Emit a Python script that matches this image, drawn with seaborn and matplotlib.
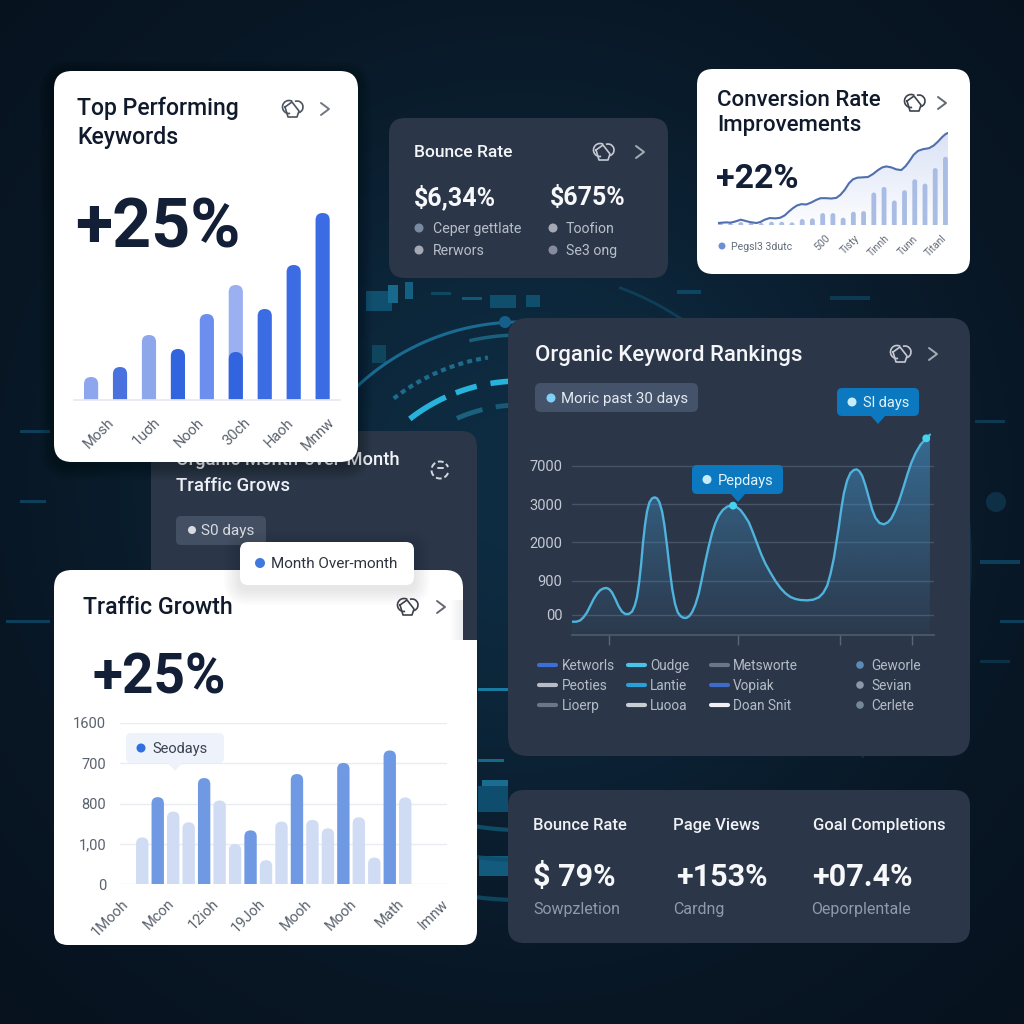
import numpy as np
import pandas as pd
import matplotlib
matplotlib.use("Agg")
import matplotlib.pyplot as plt
from matplotlib.colors import to_rgb
from matplotlib.patches import FancyBboxPatch, Rectangle, Circle, Polygon, Arc
import seaborn as sns

sns.set_theme(style="white")
plt.rcParams["font.family"] = ["Roboto", "DejaVu Sans"]

# ---- data ----
kw_values = [23, 33, 65, 51, 86, 115, 91, 135, 187]
kw_overlay = [0, 0, 0, 0, 0, 48, 0, 0, 0]
kw_colors = ["#8ea6ee", "#4a72de", "#8ea6ea", "#3364e0", "#6b8eef", "#9ab0f0", "#3b6ce4", "#3b6ce4", "#3b6ce4"]
kw_tick_pos = [0.55, 2.15, 3.65, 5.25, 6.75, 8.15]
kw_tick_labels = ["Mosh", "1uσh", "Nooh", "30ch", "Haoh", "Mnnw"]

conv_bars = [8, 6, 9, 8, 6, 10, 10, 8, 18, 20, 36, 36, 22, 40, 42, 98, 115, 74, 105, 138, 125, 172, 206]
conv_line_x = [-0.23, 0.16, 0.59, 0.98, 1.40, 1.99, 2.38, 2.87, 3.52, 3.91, 4.33, 4.82, 5.41, 5.86, 6.29, 6.71, 7.10, 7.49,
               7.92, 8.40, 8.89, 9.38, 9.80, 10.36, 10.85, 11.34, 11.73, 12.15, 12.57, 12.96, 13.39, 13.94, 14.43, 14.92,
               15.41, 15.83, 16.22, 16.71, 17.20, 17.69, 18.11, 18.50, 18.89, 19.32, 19.80, 20.39, 20.85, 21.27, 21.66, 22.02, 22.25]
conv_line_y = [6, 7, 8, 7, 10, 16, 13, 9, 6, 9, 16, 21, 20, 22, 29, 41, 51, 59,
               63, 62, 68, 76, 81, 81, 80, 82, 91, 106, 126, 138, 143, 144, 145, 154,
               166, 174, 177, 174, 168, 166, 178, 194, 212, 224, 229, 232, 240, 252, 265, 275, 278]
conv_tick_pos = [10.2, 13.1, 16.0, 18.8, 21.6]
conv_tick_labels = ["500", "Tisty", "Tinnh", "Tunn", "Titanl"]

rank_days = [0.00, 0.36, 0.70, 0.98, 1.26, 1.54, 1.82, 2.10, 2.38, 2.66, 2.88, 3.10, 3.35, 3.63, 3.91, 4.19, 4.47, 4.75,
             5.03, 5.26, 5.45, 5.62, 5.79, 5.95, 6.12, 6.29, 6.49, 6.71, 6.93, 7.13, 7.32, 7.55, 7.74, 7.97, 8.19, 8.41,
             8.64, 8.86, 9.09, 9.31, 9.56, 9.81, 10.06, 10.34, 10.62, 10.90, 11.18, 11.46, 11.74, 12.02, 12.30, 12.64,
             13.00, 13.28, 13.50, 13.78, 14.12, 14.45, 14.82, 15.15, 15.52, 15.85, 16.21, 16.63, 17.05, 17.47, 17.89,
             18.31, 18.73, 19.15, 19.71, 20.21, 20.69, 21.05, 21.39, 21.67, 21.95, 22.17, 22.37, 22.56, 22.78, 23.06,
             23.34, 23.62, 23.85, 24.07, 24.32, 24.60, 24.88, 25.16, 25.44, 25.78, 26.14, 26.47, 26.75, 27.06, 27.40,
             27.76, 28.10, 28.43, 28.80, 29.21, 29.69, 30.00]
rank_values = [-70, -70, -35, 52, 174, 348, 522, 661, 757, 800, 809, 783, 696, 522, 330, 191, 130, 130,
               191, 348, 574, 939, 1417, 1983, 2461, 2809, 3043, 3148, 3174, 3148, 3052, 2809, 2461, 1896, 1287, 765,
               391, 174, 78, 35, 26, 70, 174, 374, 661, 1070, 1504, 1896, 2243, 2504, 2696, 2844,
               2930, 2957, 2957, 2922, 2844, 2704, 2522, 2270, 1965, 1696, 1444, 1209, 991, 809, 670,
               574, 522, 496, 487, 504, 565, 678, 870, 1183, 1591, 2026, 2417, 2852, 3270, 3617,
               3809, 3887, 3904, 3861, 3739, 3478, 3165, 2852, 2635, 2504, 2470, 2522, 2617, 2809, 3070,
               3417, 3765, 4070, 4330, 4548, 4713, 4809]
rank_marked = [13.50, 29.69]
rank_yticks = [113, 1000, 2000, 3000, 4000]
rank_ylabels = ["00", "900", "2000", "3000", "7000"]
rank_xticks = [3.08, 13.9, 22.5, 28.46]

traffic_values = [463, 863, 720, 613, 1053, 830, 397, 533, 237, 620, 1093, 637, 553, 1203, 663, 263, 1327, 860]
traffic_dark = [1, 4, 7, 10, 13, 16]
traffic_yticks = [0, 400, 800, 1200, 1600]
traffic_ylabels = ["0", "1,00", "800", "700", "1600"]
traffic_tick_pos = [-1.35, 1.6, 4.5, 7.45, 10.5, 13.4, 16.45, 19.35]
traffic_tick_labels = ["1Mooh", "Mcon", "12ioh", "19Joh", "Mooh", "Mooh", "Math", "Imnw"]

legend_rows = [
    ["Ketworls", "Oudge", "Metsworte", "Geworle"],
    ["Peoties", "Lantie", "Vopiak", "Sevian"],
    ["Lioerp", "Luooa", "Doan Snit", "Cerlete"],
]
legend_colors = [
    ["#3a6fd8", "#47c4e8", "#6b7686", "#5e8bb5"],
    ["#b8bcc8", "#2a9fd8", "#3c6cc8", "#8b98a8"],
    ["#6b7686", "#c9cdd4", "#eef0f3", "#77879a"],
]

# bits of the circuit pattern behind the cards: radius, from angle, to angle, colour, width, alpha
ring_arcs = [
    (179, -38, -24.5, "#27b4dc", 4.0, 1.0), (179, -21, -14, "#27b4dc", 4.0, 1.0), (179, -9.5, 2, "#27b4dc", 4.0, 1.0),
    (155, -24, -14, "#1d6f8c", 3.5, 0.8), (155, -9, -2, "#1d6f8c", 3.5, 0.7), (238, -55, 0, "#1b6f96", 2.2, 0.95),
    (225, -13, -2, "#1d6f8c", 2.5, 0.8), (290, -70, -40, "#114a68", 1.6, 0.8), (290, 20, 62, "#114a68", 2, 0.7),
    (330, 60, 105, "#0f4a66", 3, 0.55), (395, 62, 120, "#0e3f5a", 2, 0.55), (450, 66, 110, "#0e3f5a", 2.5, 0.55),
    (350, -160, -110, "#0f4a66", 2, 0.5), (420, -140, -95, "#0e3f5a", 2.5, 0.4), (270, -125, -95, "#0f4a66", 2, 0.6),
    (300, 165, 200, "#0f4a66", 3, 0.6), (340, 168, 195, "#12607f", 3, 0.6), (270, 172, 192, "#12607f", 3, 0.7),
]
ring_dashes = [(205, -38, -9, "#1f6f90", 3.0, 0.95), (260, 100, 125, "#15688a", 5, 0.7), (170, 150, 175, "#15688a", 5, 0.8),
               (232, -120, -100, "#15688a", 3, 0.6)]
tech_blocks = [
    (366, 291, 26, 20, "#114f6e"), (388, 285, 10, 18, "#176a8c"), (405, 282, 8, 17, "#146080"), (431, 292, 20, 3, "#0f4862"),
    (490, 295, 26, 13, "#104f6c"), (526, 295, 14, 12, "#104f6c"), (462, 297, 20, 3, "#0f5a78"), (372, 345, 14, 18, "#10455e"),
    (478, 786, 30, 26, "#0f4d6e"), (482, 780, 26, 6, "#1a6d90"), (479, 856, 30, 20, "#125a7e"), (478, 688, 30, 3, "#1a7ba0"),
    (478, 759, 26, 3, "#15688a"), (975, 420, 30, 3, "#0d3a52"), (20, 430, 30, 3, "#0e3f5a"), (20, 500, 26, 3, "#0e3f5a"),
    (980, 560, 40, 4, "#0e3f5a"), (1000, 620, 24, 3, "#0e3f5a"), (6, 620, 44, 3, "#0e3f5a"), (980, 660, 30, 3, "#0c3046"),
    (677, 290, 24, 4, "#0e4560"), (830, 296, 40, 4, "#0d3a52"),
]

DARK_CARD = "#2b3648"
INK = "#101a2c"


def inset(left, top, right, bottom):
    ax = fig.add_axes([left / 1024, 1 - bottom / 1024, (right - left) / 1024, (bottom - top) / 1024], zorder=2)
    ax.patch.set_visible(False)
    sns.despine(ax=ax, left=True, bottom=True)
    return ax


def box(ax, x0, y0, x1, y1, color, r=14, zorder=1, alpha=1.0):
    ax.add_patch(FancyBboxPatch((x0 + r, y0 + r), x1 - x0 - 2 * r, y1 - y0 - 2 * r, boxstyle=f"round,pad={r},rounding_size={r}",
                                fc=color, ec="none", zorder=zorder, alpha=alpha))


def shadow(ax, x0, y0, x1, y1, r=14, zorder=1, color="#000000", alpha=0.035, spread=14):
    for s in range(spread, 0, -2):
        box(ax, x0 - s, y0 - s + 4, x1 + s, y1 + s + 4, color, r=r + s, zorder=zorder, alpha=alpha)


def label(ax, x, y, s, size, color, weight="normal", **kw):
    ax.text(x, y + 0.1 * size, s, fontsize=size, color=color, fontweight=weight, va="center", ha=kw.pop("ha", "left"), **kw)


def dot(ax, x, y, r, color, zorder=6):
    ax.add_patch(Circle((x, y), r, fc=color, ec="none", zorder=zorder))


def icons(ax, x, y, ax_x, color, zorder=6):
    # the little picture glyph and arrow at the right of each card head
    ax.add_patch(Arc((x - 4, y - 2), 13, 13, theta1=80, theta2=300, ec=color, lw=1.2, zorder=zorder))
    ax.add_patch(Arc((x + 4, y - 2), 12, 12, theta1=250, theta2=70, ec=color, lw=1.2, zorder=zorder))
    ax.plot([x - 8, x - 1, x + 6, x + 4, x - 5, x - 8], [y - 2, y - 7, y + 2, y + 8, y + 8, y - 2], color=color, lw=1.2,
            zorder=zorder, solid_joinstyle="round")
    ax.plot([ax_x - 4, ax_x + 4, ax_x - 4], [y - 6, y, y + 6], color=color, lw=1.4, zorder=zorder, alpha=0.8)


def round_bars(ax, bottom_px=8):
    box_px = ax.get_window_extent()
    xmin, xmax = ax.get_xlim()
    ymin, ymax = ax.get_ylim()
    ux, uy = (xmax - xmin) / box_px.width, (ymax - ymin) / box_px.height
    for p in list(ax.patches):
        x, y, w, h = p.get_x(), p.get_y(), p.get_width(), p.get_height()
        color = p.get_facecolor()
        p.remove()
        if h <= 0:
            continue
        extra = bottom_px * uy
        ax.add_patch(FancyBboxPatch((x, y - extra), w, h + extra, boxstyle=f"round,pad=0,rounding_size={w / 2}",
                                    mutation_aspect=uy / ux, fc=color, ec="none", zorder=2, clip_on=True))


def gradient_fill(ax, x, y, color, top_alpha, bottom_alpha, floor):
    xlim, ylim = ax.get_xlim(), ax.get_ylim()
    poly = ax.fill_between(x, y, floor, facecolor="none", edgecolor="none")
    rgba = np.zeros((256, 1, 4))
    rgba[..., :3] = to_rgb(color)
    rgba[:, 0, 3] = np.linspace(top_alpha, bottom_alpha, 256)
    im = ax.imshow(rgba, extent=[xlim[0], xlim[1], ylim[0], ylim[1]], origin="upper", aspect="auto", zorder=1.5)
    im.set_clip_path(poly.get_paths()[0], transform=ax.transData)
    ax.set_xlim(xlim)
    ax.set_ylim(ylim)


fig = plt.figure(figsize=(10.24, 10.24), dpi=100, facecolor="#08121f")

# ---- background and cards ----
bg = fig.add_axes([0, 0, 1, 1], zorder=0)
bg.set_xlim(0, 1024)
bg.set_ylim(1024, 0)
bg.axis("off")

yy, xx = np.mgrid[0:1024:256j, 0:1024:256j]
glow = np.exp(-((xx - 520) ** 2 + (yy - 480) ** 2) / (2 * 300.0 ** 2))
base = np.array(to_rgb("#07111d"))
tint = np.array(to_rgb("#0e2c42"))
bg.imshow(base + glow[..., None] * (tint - base), extent=[0, 1024, 1024, 0], aspect="auto", zorder=0)
bg.set_xlim(0, 1024)
bg.set_ylim(1024, 0)

for r, a0, a1, c, lw, al in ring_arcs + ring_dashes:
    t = np.radians(np.linspace(a0, a1, 60))
    ls = (0, (1.2, 1.0)) if (r, a0, a1, c, lw, al) in ring_dashes else "-"
    bg.plot(520 + r * np.sin(t), 560 - r * np.cos(t), color=c, lw=lw, alpha=al, zorder=0.5, ls=ls, solid_capstyle="butt")
for x, y, w, h, c in tech_blocks:
    bg.add_patch(Rectangle((x, y), w, h, fc=c, ec="none", zorder=0.4))
dot(bg, 505, 322, 6, "#14608a", zorder=0.6)
dot(bg, 996, 502, 10, "#0d3047", zorder=0.6)

box(bg, 389, 118, 668, 278, DARK_CARD, r=16)
box(bg, 508, 318, 970, 756, DARK_CARD, r=20)
box(bg, 508, 790, 970, 943, DARK_CARD, r=16)
box(bg, 151, 431, 477, 700, DARK_CARD, r=16, zorder=1)
label(bg, 176, 459, "Organic Month-over-Month", 13.2, "#f2f4f7", weight="medium", zorder=1.1)
shadow(bg, 54, 71, 358, 462, r=18, zorder=1.2)
box(bg, 54, 71, 358, 462, "white", r=18, zorder=1.5)
box(bg, 697, 69, 970, 274, "white", r=16, zorder=1.5)

box(bg, 54, 570, 463, 945, "white", r=18, zorder=1.5)
box(bg, 54, 700, 477, 945, "white", r=14, zorder=1.5)
bg.add_patch(Rectangle((450, 640), 27, 80, fc="white", ec="none", zorder=1.5))
for i in range(6):
    bg.add_patch(Rectangle((451 + i * 2, 600), 2, 40, fc="#7e8794", ec="none", alpha=0.02 + 0.025 * i, zorder=1.55))

# dark traffic card head
label(bg, 176, 485, "Traffic Grows", 13.4, "#eef1f5", weight="medium", zorder=1.1)
box(bg, 176, 516, 266, 545, "#434f63", r=5, zorder=1.1)
dot(bg, 192, 530, 4, "#d8dce2", zorder=1.2)
label(bg, 201, 530, "S0 days", 11, "#d8dce2", zorder=1.2)
bg.add_patch(Arc((440, 470), 17, 17, theta1=20, theta2=340, ec="#d5d9df", lw=1.4, ls=(0, (3, 1.5)), zorder=1.2))
bg.plot([438, 443], [468, 468], color="#d5d9df", lw=1.4, zorder=1.2)

# ---- top performing keywords ----
label(bg, 77, 107, "Top Performing", 16.6, INK, weight="medium", zorder=3)
label(bg, 77, 136, "Keywords", 16.6, INK, weight="medium", zorder=3)
label(bg, 75, 224, "+25%", 49, "#131f36", weight="bold", zorder=3)
icons(bg, 293, 109, 325, "#4d5460", zorder=3)

kw_x = np.arange(len(kw_values))
ax1 = inset(74, 205, 340, 400)
sns.barplot(x=kw_x, y=kw_values, hue=[str(i) for i in kw_x], palette=kw_colors, saturation=1, width=0.49, legend=False, ax=ax1)
sns.barplot(x=kw_x, y=kw_overlay, color="#3364e0", saturation=1, width=0.49, ax=ax1)
ax1.set_xlim(-0.59, 8.6)
ax1.set_ylim(0, 195)
round_bars(ax1)
ax1.set_ylabel("")
ax1.set_yticks([])
ax1.spines["bottom"].set_visible(True)
ax1.spines["bottom"].set_color("#e6eaf2")
ax1.set_xticks(kw_tick_pos, kw_tick_labels, rotation=45, ha="right", rotation_mode="anchor", fontsize=10.5, color="#5a626e")
ax1.tick_params(axis="x", length=0, pad=11)

# ---- conversion rate ----
label(bg, 717, 99, "Conversion Rate", 16, INK, weight="medium", zorder=3)
label(bg, 717, 124, "Improvements", 16, INK, weight="medium", zorder=3)
label(bg, 716, 177, "+22%", 24.5, "#131f36", weight="bold", zorder=3)
icons(bg, 915, 103, 942, "#3c434e", zorder=3)
dot(bg, 722, 246, 3.5, "#6d90d4", zorder=3)
label(bg, 731, 246, "Pegsl3 3dutc", 7.6, "#656d7a", zorder=3)

conv_x = np.arange(len(conv_bars))
ax2 = inset(718, 129, 948, 225)
sns.barplot(x=conv_x, y=conv_bars, color="#a9bce4", saturation=1, width=0.47, ax=ax2)
ax2.set_xlim(-0.23, 22.25)
ax2.set_ylim(0, 290)
round_bars(ax2, bottom_px=3)
gradient_fill(ax2, conv_line_x, conv_line_y, "#9fb4e6", 0.4, 0.03, 0)
sns.lineplot(x=conv_line_x, y=conv_line_y, color="#4f6fae", lw=1.5, sort=False, estimator=None, ax=ax2)
ax2.set_ylabel("")
ax2.set_yticks([])
ax2.set_xticks(conv_tick_pos, conv_tick_labels, rotation=45, ha="right", rotation_mode="anchor", fontsize=7.5, color="#656d7a")
ax2.tick_params(axis="x", length=0, pad=6)

# ---- organic keyword rankings ----
label(bg, 535, 354, "Organic Keyword Rankings", 16, "#f4f6f9", weight="medium", zorder=3)
icons(bg, 901, 354, 933, "#c5cad2", zorder=3)
box(bg, 535, 383, 698, 412, "#45536a", r=6, zorder=2)
dot(bg, 551, 398, 4.5, "#7fd0f5", zorder=3)
label(bg, 561, 398, "Moric past 30 days", 10.8, "#e6eaf0", zorder=3)

ax3 = inset(572, 433, 934, 635)
ax3.set_xlim(0, 30.34)
ax3.set_ylim(-417, 4852)
ax3.set_axisbelow(True)
ax3.set_yticks(rank_yticks, rank_ylabels, fontsize=10.5, color="#c3c9d2")
ax3.grid(axis="y", color="#465468", lw=1)
gradient_fill(ax3, rank_days, rank_values, "#3f8fc4", 0.6, 0.04, -417)
sns.lineplot(x=rank_days, y=rank_values, color="#4fb3dc", lw=1.7, sort=False, estimator=None, ax=ax3)
marked = pd.DataFrame({"d": rank_marked, "v": [rank_values[rank_days.index(d)] for d in rank_marked]})
sns.scatterplot(data=marked, x="d", y="v", color="#45d4f0", s=32, edgecolor="none", zorder=5, clip_on=False, ax=ax3)
ax3.set_xlabel("")
ax3.set_ylabel("")
ax3.set_xticks(rank_xticks, [""] * len(rank_xticks))
ax3.spines["bottom"].set_visible(True)
ax3.spines["bottom"].set_color("#4c5a6e")
ax3.tick_params(axis="y", length=0, pad=7)
ax3.tick_params(axis="x", length=7, width=1, color="#5a6779", bottom=True, direction="out")

# ---- traffic growth ----
label(bg, 83, 606, "Traffic Growth", 16.7, INK, weight="medium", zorder=3)
label(bg, 92, 675, "+25%", 39.5, "#131f36", weight="bold", zorder=3)
icons(bg, 408, 607, 441, "#3c434e", zorder=3)

traffic_x = np.arange(len(traffic_values))
traffic_colors = ["#7099e4" if i in traffic_dark else "#cfdcf3" for i in traffic_x]
ax4 = inset(120, 723, 447, 884)
ax4.set_axisbelow(True)
sns.barplot(x=traffic_x, y=traffic_values, hue=[str(i) for i in traffic_x], palette=traffic_colors, saturation=1,
            width=0.8, legend=False, ax=ax4)
ax4.set_xlim(-1.44, 19.7)
ax4.set_ylim(0, 1600)
round_bars(ax4)
ax4.set_ylabel("")
ax4.set_yticks(traffic_yticks, traffic_ylabels, fontsize=10.5, color="#5a626e")
ax4.grid(axis="y", color="#e9ecf1", lw=1)
for s in ["top", "bottom"]:
    ax4.spines[s].set_visible(False)
ax4.set_xticks(traffic_tick_pos, traffic_tick_labels, rotation=45, ha="right", rotation_mode="anchor", fontsize=10.5, color="#5a626e")
ax4.tick_params(axis="x", length=0, pad=9)
ax4.tick_params(axis="y", length=0, pad=10)

# ---- things that sit on top of the charts ----
top = fig.add_axes([0, 0, 1, 1], zorder=5)
top.set_xlim(0, 1024)
top.set_ylim(1024, 0)
top.axis("off")


def tooltip(x0, y0, x1, y1, tail, text, fill, dot_color, text_color, size=10.5):
    box(top, x0, y0, x1, y1, fill, r=5, zorder=3)
    top.add_patch(Polygon([(tail - 8, y1 - 1), (tail + 8, y1 - 1), (tail, y1 + 8)], fc=fill, ec="none", zorder=3))
    dot(top, x0 + 15, (y0 + y1) / 2, 4.5, dot_color)
    label(top, x0 + 26, (y0 + y1) / 2, text, size, text_color, zorder=6)


tooltip(692, 465, 783, 494, 738, "Pepdays", "#0b78bf", "#c6ecfa", "#dff3fb")
tooltip(837, 388, 919, 416, 878, "Sl days", "#0b78bf", "#c6ecfa", "#dff3fb")
tooltip(126, 733, 224, 763, 175, "Seodays", "#eef2fa", "#2f6fe0", "#3a4250")

shadow(top, 240, 542, 414, 585, r=8, zorder=2, alpha=0.012, spread=16)
box(top, 240, 542, 414, 585, "white", r=8, zorder=3)
dot(top, 260, 563, 5, "#3f78de")
label(top, 271, 563, "Month Over-month", 11, "#2c3440", zorder=6)

# legend of the organic card
col_x = [539, 628, 711, 860]
text_x = [562, 650, 733, 871]
row_y = [665, 685, 705]
for r, y in enumerate(row_y):
    for c in range(4):
        if c == 3:
            dot(top, col_x[c], y, 3.8, legend_colors[r][c])
        else:
            top.plot([col_x[c], col_x[c] + 17], [y, y], color=legend_colors[r][c], lw=3, solid_capstyle="round", zorder=5)
        label(top, text_x[c], y, legend_rows[r][c], 9.8, "#b5bcc7", zorder=6)

# bounce rate card
label(top, 414, 151, "Bounce Rate", 12.6, "#f4f6f9", weight="medium")
icons(top, 604, 152, 640, "#c5cad2")
label(top, 414, 196, "$6,34%", 18, "#f7f8fa", weight="bold")
label(top, 550, 196, "$675%", 18, "#f7f8fa", weight="bold")
for x, tx, y, s, c in [(419, 433, 228, "Ceper gettlate", "#7b8aa3"), (419, 433, 250, "Rerwors", "#a4a9b5"),
                       (553, 566, 228, "Toofion", "#a4a9b5"), (553, 566, 250, "Se3 ong", "#868c9c")]:
    dot(top, x, y, 4.5, c)
    label(top, tx, y, s, 10.2, "#b9bfc9")

# bottom card
for x, s in zip([533, 673, 813], ["Bounce Rate", "Page Views", "Goal Completions"]):
    label(top, x, 824, s, 12, "#f0f2f5", weight="medium")
for x, s in zip([533, 676, 812], ["$ 79%", "+153%", "+07.4%"]):
    label(top, x, 875, s, 22, "#f7f8fa", weight="bold")
for x, s in zip([533, 673, 811], ["Sowpzletion", "Cardng", "Oeporplentale"]):
    label(top, x, 908, s, 11.5, "#8f9bad")

fig.savefig("out.png", dpi=100, facecolor=fig.get_facecolor())
